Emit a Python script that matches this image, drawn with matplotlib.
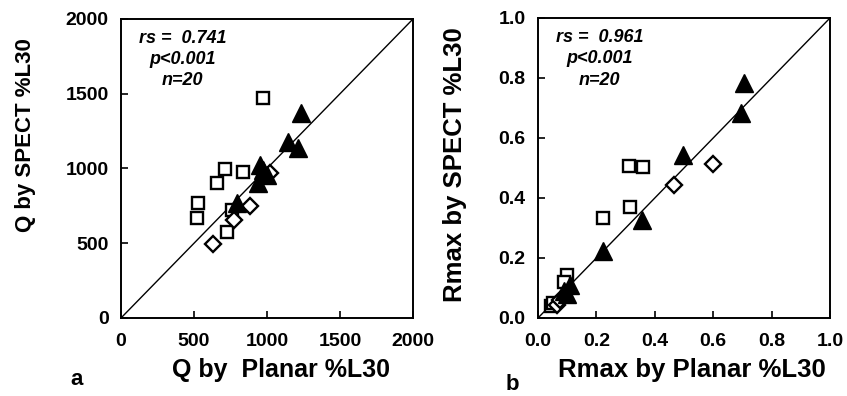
import matplotlib
matplotlib.use("Agg")
import matplotlib.pyplot as plt

plt.rcParams["font.family"] = ["Liberation Sans", "DejaVu Sans"]
plt.rcParams["font.weight"] = "bold"

# panel a: Q (%L30), planar vs SPECT
q_sq_x = [970, 712, 838, 655, 525, 518, 758, 728]
q_sq_y = [1474, 995, 979, 901, 767, 667, 722, 577]
q_di_x = [628, 776, 884, 1021]
q_di_y = [495, 656, 751, 968]
q_tri_x = [1231, 1146, 1215, 952, 998, 940, 792, 975]
q_tri_y = [1369, 1179, 1135, 1023, 957, 901, 767, 990]

# panel b: Rmax (%L30), planar vs SPECT
r_sq_x = [0.313, 0.358, 0.315, 0.224, 0.098, 0.090, 0.043, 0.050]
r_sq_y = [0.507, 0.502, 0.371, 0.332, 0.143, 0.120, 0.040, 0.050]
r_di_x = [0.467, 0.600, 0.064, 0.075]
r_di_y = [0.443, 0.513, 0.043, 0.060]
r_tri_x = [0.705, 0.694, 0.498, 0.355, 0.224, 0.110, 0.090, 0.100]
r_tri_y = [0.782, 0.684, 0.543, 0.327, 0.224, 0.110, 0.090, 0.080]

q_ticks = [0, 500, 1000, 1500, 2000]
r_ticks = [0.0, 0.2, 0.4, 0.6, 0.8, 1.0]
stats_a = ["rs =  0.741", "p<0.001", "n=20"]
stats_b = ["rs =  0.961", "p<0.001", "n=20"]

W, H = 847, 396
fig = plt.figure(figsize=(W / 100, H / 100), dpi=100)
ax_a = fig.add_axes([121 / W, 1 - 318 / H, 292 / W, 299 / H])
ax_b = fig.add_axes([538 / W, 1 - 318 / H, 292 / W, 300 / H])


def draw(ax, sq, di, tri, lim, ticks, fmt, stats):
    ax.plot([0, lim], [0, lim], color="black", lw=1.0, zorder=1)
    ax.plot(sq[0], sq[1], "s", ms=9, mfc="white", mec="black", mew=1.7, ls="none", zorder=3)
    ax.plot(di[0], di[1], "D", ms=8, mfc="white", mec="black", mew=1.7, ls="none", zorder=3)
    ax.plot(tri[0], tri[1], "^", ms=12.5, mfc="black", mec="black", ls="none", zorder=4)
    ax.set_xlim(0, lim)
    ax.set_ylim(0, lim)
    ax.set_xticks(ticks)
    ax.set_yticks(ticks)
    ax.set_xticklabels([fmt(t) for t in ticks], fontsize=14, fontweight="bold")
    ax.set_yticklabels([fmt(t) for t in ticks], fontsize=14, fontweight="bold")
    ax.tick_params(direction="in", length=5, width=1.2)
    ax.tick_params(axis="x", pad=11)
    ax.tick_params(axis="y", pad=9)
    for s in ax.spines.values():
        s.set_linewidth(1.4)
    for i, txt in enumerate(stats):
        ax.text(0.21, 0.935 - i * 0.071, txt, transform=ax.transAxes, ha="center",
                va="center", fontsize=13, fontweight="bold", style="italic")


draw(ax_a, (q_sq_x, q_sq_y), (q_di_x, q_di_y), (q_tri_x, q_tri_y), 2000, q_ticks,
     lambda t: f"{t:d}", stats_a)
draw(ax_b, (r_sq_x, r_sq_y), (r_di_x, r_di_y), (r_tri_x, r_tri_y), 1.0, r_ticks,
     lambda t: f"{t:.1f}", stats_b)

fig.text(281 / W, 1 - 377 / H, "Q by  Planar %L30", ha="center", va="baseline",
         fontsize=18, fontweight="bold")
fig.text(25 / W, 1 - 135 / H, "Q by SPECT %L30", ha="center", va="center",
         rotation=90, fontsize=16, fontweight="bold")
fig.text(692 / W, 1 - 377 / H, "Rmax by Planar %L30", ha="center", va="baseline",
         fontsize=18.5, fontweight="bold")
fig.text(455 / W, 1 - 165 / H, "Rmax by SPECT %L30", ha="center", va="center",
         rotation=90, fontsize=18.5, fontweight="bold")
fig.text(77 / W, 1 - 385 / H, "a", ha="center", va="baseline", fontsize=16, fontweight="bold")
fig.text(512 / W, 1 - 390 / H, "b", ha="center", va="baseline", fontsize=16, fontweight="bold")

fig.savefig("out.png", dpi=100)
